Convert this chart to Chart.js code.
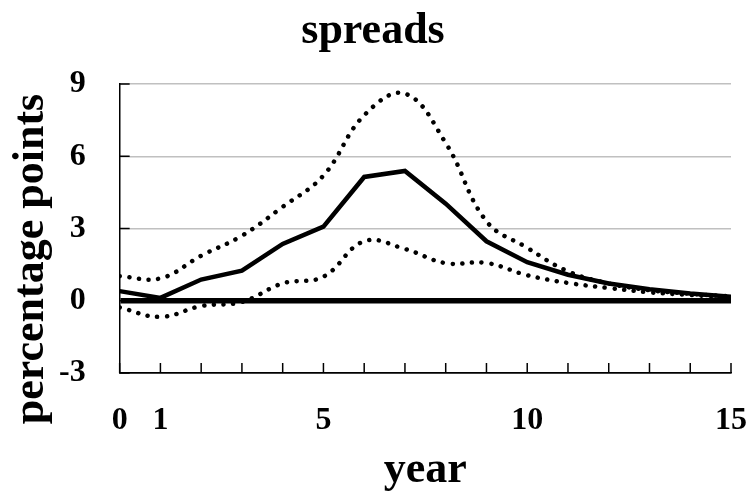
<!DOCTYPE html>
<html>
<head>
<meta charset="utf-8">
<script src="https://cdn.jsdelivr.net/npm/chart.js@4/dist/chart.umd.min.js"></script>
<style>
  body { margin: 0; background: #fff; }
  #wrap { width: 751px; height: 492px; }
</style>
</head>
<body>
<div id="wrap"><canvas id="myChart" width="751" height="492"></canvas></div>
<script>
// values
const years = [0, 1, 2, 3, 4, 5, 6, 7, 8, 9, 10, 11, 12, 13, 14, 15];
const spread = [0.40, 0.12, 0.88, 1.25, 2.36, 3.08, 5.14, 5.39, 4.03, 2.47, 1.60, 1.08, 0.72, 0.48, 0.30, 0.17];
const upperBand = [1.02, 0.93, 1.87, 2.70, 3.90, 5.20, 7.70, 8.60, 6.55, 3.30, 2.20, 1.22, 0.72, 0.44, 0.29, 0.18];
const lowerBand = [-0.28, -0.67, -0.22, -0.05, 0.72, 1.00, 2.47, 2.15, 1.56, 1.57, 1.06, 0.74, 0.53, 0.35, 0.24, 0.14];
const yTicks = [-3, 0, 3, 6, 9];
const xLabels = [0, 1, 5, 10, 15];

const serif = '"Liberation Serif", "Times New Roman", serif';

const toPoints = (vals) => years.map((yr, i) => ({ x: yr, y: vals[i] }));

// short tick marks pointing into the plot, plus the titles
const insideTicks = {
    id: 'insideTicks',
    afterDraw(chart) {
        const ctx = chart.ctx;
        const xs = chart.scales.x;
        const ys = chart.scales.y;
        const area = chart.chartArea;
        ctx.save();
        ctx.strokeStyle = '#000';
        ctx.lineWidth = 1.5;
        years.forEach(v => {
            const px = xs.getPixelForValue(v);
            ctx.beginPath();
            ctx.moveTo(px, area.bottom);
            ctx.lineTo(px, area.bottom - 10);
            ctx.stroke();
        });
        yTicks.forEach(v => {
            const py = ys.getPixelForValue(v);
            ctx.beginPath();
            ctx.moveTo(area.left, py);
            ctx.lineTo(area.left + 10, py);
            ctx.stroke();
        });

        ctx.fillStyle = '#000';
        ctx.font = 'bold 44px ' + serif;
        ctx.textAlign = 'center';
        ctx.textBaseline = 'alphabetic';
        ctx.fillText('spreads', 373, 43);
        ctx.fillText('year', (area.left + area.right) / 2, 482);

        ctx.translate(43, 259);
        ctx.rotate(-Math.PI / 2);
        ctx.fillText('percentage points', 0, 0);
        ctx.restore();
    }
};

const main = () => {
    new Chart('myChart', {
        type: 'line',
        data: {
            datasets: [
                {
                    data: toPoints(upperBand),
                    borderColor: '#000',
                    borderWidth: 4.5,
                    borderDash: [0.1, 9.6],
                    borderCapStyle: 'round',
                    tension: 0.4,
                    pointRadius: 0,
                    fill: false
                },
                {
                    data: toPoints(lowerBand),
                    borderColor: '#000',
                    borderWidth: 4.5,
                    borderDash: [0.1, 9.6],
                    borderCapStyle: 'round',
                    tension: 0.4,
                    pointRadius: 0,
                    fill: false
                },
                {
                    data: toPoints(spread),
                    borderColor: '#000',
                    borderWidth: 4.5,
                    tension: 0,
                    pointRadius: 0,
                    fill: false
                }
            ]
        },
        options: {
            responsive: false,
            animation: false,
            layout: { padding: { left: 25, right: 0, top: 84, bottom: 23 } },
            plugins: {
                legend: { display: false },
                tooltip: { enabled: false },
                title: { display: false }
            },
            scales: {
                x: {
                    type: 'linear',
                    min: 0,
                    max: 15,
                    grid: { display: false, drawTicks: false },
                    border: { display: true, color: '#000', width: 1.5 },
                    ticks: {
                        stepSize: 1,
                        autoSkip: false,
                        maxRotation: 0,
                        padding: 4,
                        color: '#000',
                        font: { family: serif, size: 32, weight: 'bold', lineHeight: 2.75 },
                        callback: (v) => xLabels.includes(v) ? String(v) : ''
                    }
                },
                y: {
                    min: -3,
                    max: 9,
                    grid: {
                        drawTicks: false,
                        color: (c) => c.tick && (c.tick.value === 0 || c.tick.value === -3) ? '#000' : '#c0c0c0',
                        lineWidth: (c) => c.tick && c.tick.value === 0 ? 5.5 : 1.5
                    },
                    border: { display: true, color: '#000', width: 1.5 },
                    ticks: {
                        stepSize: 3,
                        padding: 34,
                        color: '#000',
                        font: { family: serif, size: 32, weight: 'bold' }
                    }
                }
            }
        },
        plugins: [insideTicks]
    });
};
window.addEventListener('DOMContentLoaded', main);
</script>
</body>
</html>
